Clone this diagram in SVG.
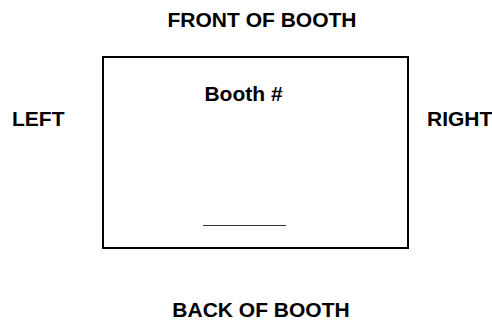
<svg xmlns="http://www.w3.org/2000/svg" width="492" height="322" viewBox="0 0 492 322">
<style>
.lbl{font-family:"Liberation Sans",Arial,sans-serif;font-weight:bold;font-size:21px;fill:#000}
.box{fill:#fff;stroke:#000;stroke-width:2}
</style>
<rect width="492" height="322" fill="#fff"/>
<g id="booth">
<rect class="box" x="103" y="57" width="305" height="191"/>
<text class="lbl" x="243.5" y="101" text-anchor="middle">Booth #</text>
<line x1="203" y1="225.5" x2="286" y2="225.5" stroke="#333" stroke-width="1.2"/>
</g>
<g id="front"><text class="lbl" x="262" y="27" text-anchor="middle">FRONT OF BOOTH</text></g>
<g id="back"><text class="lbl" x="261" y="317" text-anchor="middle">BACK OF BOOTH</text></g>
<g id="left"><text class="lbl" x="12" y="126">LEFT</text></g>
<g id="right"><text class="lbl" x="427" y="126">RIGHT</text></g>
<g id="connectors"/>
</svg>
